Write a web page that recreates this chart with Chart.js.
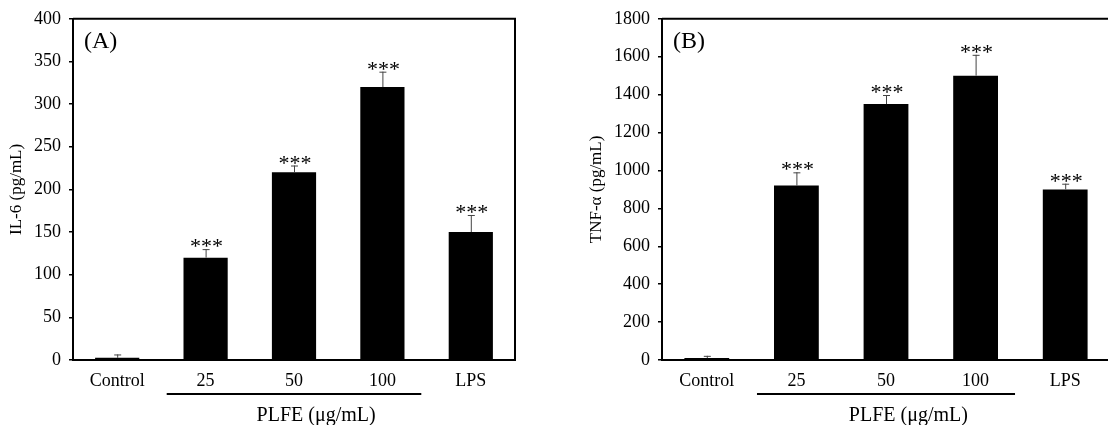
<!DOCTYPE html>
<html>
<head>
<meta charset="utf-8">
<script src="https://cdn.jsdelivr.net/npm/chart.js@4/dist/chart.umd.min.js"></script>
<style>
  html, body { margin: 0; padding: 0; background: #fff; overflow: hidden; width: 1108px; height: 425px; }
  canvas { position: absolute; top: 0; }
  #chartA { left: 0; }
  #chartB { left: 554px; }
</style>
</head>
<body>
<canvas id="chartA" width="554" height="425"></canvas>
<canvas id="chartB" width="580" height="425"></canvas>
<script>
const groups = ['Control', '25', '50', '100', 'LPS']
const il6 = [2.5, 120, 220, 320, 150]
const il6Err = [4, 10, 8, 18, 20]
const tnf = [10, 920, 1350, 1500, 900]
const tnfErr = [12, 70, 48, 110, 30]
const stars = ['', '***', '***', '***', '***']

const SERIF = '"Liberation Serif", "Times New Roman", serif'

// frame, error bars, asterisks, panel letter and the PLFE bracket
const extras = {
  id: 'extras',
  afterDatasetsDraw(chart, args, opts) {
    const { ctx, chartArea: a, scales: { x, y } } = chart
    const vals = chart.data.datasets[0].data
    ctx.save()
    ctx.strokeStyle = '#000'
    ctx.lineWidth = 2
    ctx.beginPath()
    ctx.moveTo(a.left, a.top)
    ctx.lineTo(a.right, a.top)
    ctx.lineTo(a.right, a.bottom)
    ctx.stroke()

    opts.errors.forEach((e, i) => {
      const cx = x.getPixelForValue(i)
      const y0 = y.getPixelForValue(vals[i])
      const y1 = y.getPixelForValue(vals[i] + e)
      ctx.strokeStyle = '#444'
      ctx.lineWidth = 1
      ctx.beginPath()
      ctx.moveTo(cx + 0.5, y0)
      ctx.lineTo(cx + 0.5, y1)
      ctx.moveTo(cx - 3, y1 + 0.5)
      ctx.lineTo(cx + 4, y1 + 0.5)
      ctx.stroke()
      if (opts.stars[i]) {
        ctx.fillStyle = '#000'
        ctx.font = '22px ' + SERIF
        ctx.textAlign = 'center'
        ctx.textBaseline = 'alphabetic'
        ctx.fillText(opts.stars[i], cx + 1, y1 + 4)
      }
    })

    ctx.fillStyle = '#000'
    ctx.font = '24px ' + SERIF
    ctx.textAlign = 'left'
    ctx.textBaseline = 'alphabetic'
    ctx.fillText(opts.panel, a.left + 11, 48)

    const step = x.getPixelForValue(1) - x.getPixelForValue(0)
    ctx.strokeStyle = '#000'
    ctx.lineWidth = 2
    ctx.beginPath()
    ctx.moveTo(x.getPixelForValue(1) - 0.44 * step, 394)
    ctx.lineTo(x.getPixelForValue(3) + 0.44 * step, 394)
    ctx.stroke()

    ctx.font = '20px ' + SERIF
    ctx.textAlign = 'center'
    ctx.fillText('PLFE (\u03bcg/mL)', x.getPixelForValue(2) + 0.25 * step, 421)
    ctx.restore()
  }
}

function createBarChart(canvas, { data, errors, max, stepSize, title, panel, yWidth, padRight, titlePad }) {
  return new Chart(canvas, {
    type: 'bar',
    data: {
      labels: groups,
      datasets: [{
        data,
        backgroundColor: '#000',
        borderWidth: 0,
        barPercentage: 0.5,
        categoryPercentage: 1
      }]
    },
    options: {
      responsive: false,
      animation: false,
      layout: { padding: { left: 0, top: 15, right: padRight, bottom: 0 } },
      plugins: {
        legend: { display: false },
        tooltip: { enabled: false },
        extras: { errors, stars, panel }
      },
      scales: {
        x: {
          grid: { display: false, drawTicks: false },
          border: { display: true, color: '#000', width: 2 },
          ticks: { color: '#000', padding: 10, font: { family: SERIF, size: 18 } },
          afterFit(scale) { scale.height = 65 }
        },
        y: {
          min: 0,
          max,
          grid: { drawOnChartArea: false, drawTicks: true, tickLength: 4, color: '#000', lineWidth: 1.5 },
          border: { display: true, color: '#000', width: 2 },
          ticks: {
            stepSize,
            color: '#000',
            padding: 8,
            font: { family: SERIF, size: 18 },
            callback: value => String(value)
          },
          title: {
            display: true,
            text: title,
            color: '#000',
            padding: { top: titlePad, bottom: 0 },
            font: { family: SERIF, size: 17 }
          },
          afterFit(scale) { scale.width = yWidth }
        }
      }
    },
    plugins: [extras]
  })
}

createBarChart(document.getElementById('chartA'), {
  data: il6, errors: il6Err, max: 400, stepSize: 50,
  title: 'IL-6 (pg/mL)', panel: '(A)', yWidth: 73, padRight: 39, titlePad: 6
})

createBarChart(document.getElementById('chartB'), {
  data: tnf, errors: tnfErr, max: 1800, stepSize: 200,
  title: 'TNF-\u03b1 (pg/mL)', panel: '(B)', yWidth: 108, padRight: 24, titlePad: 32
})
</script>
</body>
</html>
